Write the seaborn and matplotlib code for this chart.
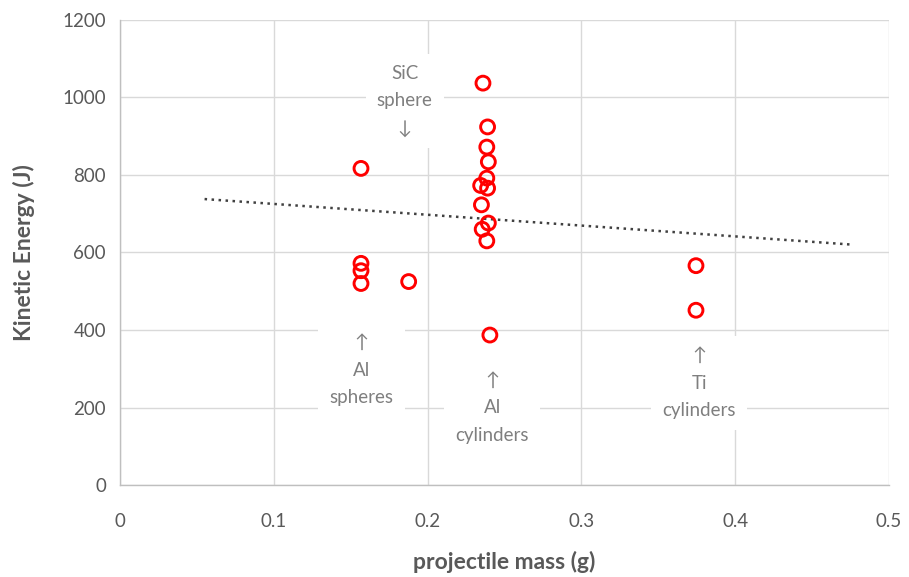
import numpy as np
import pandas as pd
import matplotlib
matplotlib.use("Agg")
import matplotlib.pyplot as plt
import seaborn as sns

# Data
mass_g = [0.236, 0.239, 0.2385, 0.2395, 0.2385, 0.2345, 0.239, 0.235, 0.2395, 0.2355, 0.2385, 0.2405,
          0.1567, 0.1567, 0.1567, 0.1567, 0.1877,
          0.3745, 0.3745]
energy_j = [1037, 924, 872, 834, 792, 773, 766, 723, 676, 660, 630, 387,
            817, 572, 553, 520, 525,
            566, 451]
trend_x = [0.055, 0.475]
annotations = [("SiC\nsphere\n↓", 0.185, 991),
               ("↑\nAl\nspheres", 0.157, 296),
               ("↑\nAl\ncylinders", 0.242, 199),
               ("↑\nTi\ncylinders", 0.3765, 263)]
x_ticks = [0, 0.1, 0.2, 0.3, 0.4, 0.5]
y_ticks = [0, 200, 400, 600, 800, 1000, 1200]

df = pd.DataFrame({"mass": mass_g, "energy": energy_j})

sns.set_theme(style="white")
plt.rcParams["font.family"] = ["Lato", "DejaVu Sans"]

fig = plt.figure(figsize=(9.09, 5.77), dpi=100)
ax = fig.add_axes([0.132, 0.1594, 0.846, 0.806])

ax.grid(True, color="#d9d9d9", linewidth=1.0)
ax.set_axisbelow(True)

# Linear trendline (least squares), extended as in the reference
coef = np.polyfit(df["mass"], df["energy"], 1)
tx = np.array(trend_x)
ax.plot(tx, np.polyval(coef, tx), linestyle=(0, (1, 1.8)), color="#404040", linewidth=1.8, zorder=2)

for txt, x, y in annotations:
    ax.text(x, y, txt, ha="center", va="center", fontsize=13.5, color="#7f7f7f",
            linespacing=1.75, zorder=3,
            bbox=dict(facecolor="white", edgecolor="none", pad=8))

sns.scatterplot(data=df, x="mass", y="energy", ax=ax, marker="o", s=100,
                facecolor="none", edgecolor="#ff0000", linewidth=2.1, zorder=4)

ax.set_xlim(0, 0.5)
ax.set_ylim(0, 1200)
ax.set_xticks(x_ticks)
ax.set_yticks(y_ticks)
ax.set_xticklabels(["0", "0.1", "0.2", "0.3", "0.4", "0.5"])
ax.tick_params(axis="both", labelsize=13.5, colors="#595959", length=0, pad=10)
ax.tick_params(axis="x", pad=20)

for side in ["top", "right"]:
    ax.spines[side].set_visible(False)
for side in ["left", "bottom"]:
    ax.spines[side].set_color("#bfbfbf")
    ax.spines[side].set_linewidth(1.0)

ax.set_xlabel("projectile mass (g)", fontsize=16.5, fontweight="bold", color="#595959", labelpad=15)
ax.set_ylabel("Kinetic Energy (J)", fontsize=16.5, fontweight="bold", color="#595959", labelpad=20)

fig.savefig("out.png", dpi=100)
